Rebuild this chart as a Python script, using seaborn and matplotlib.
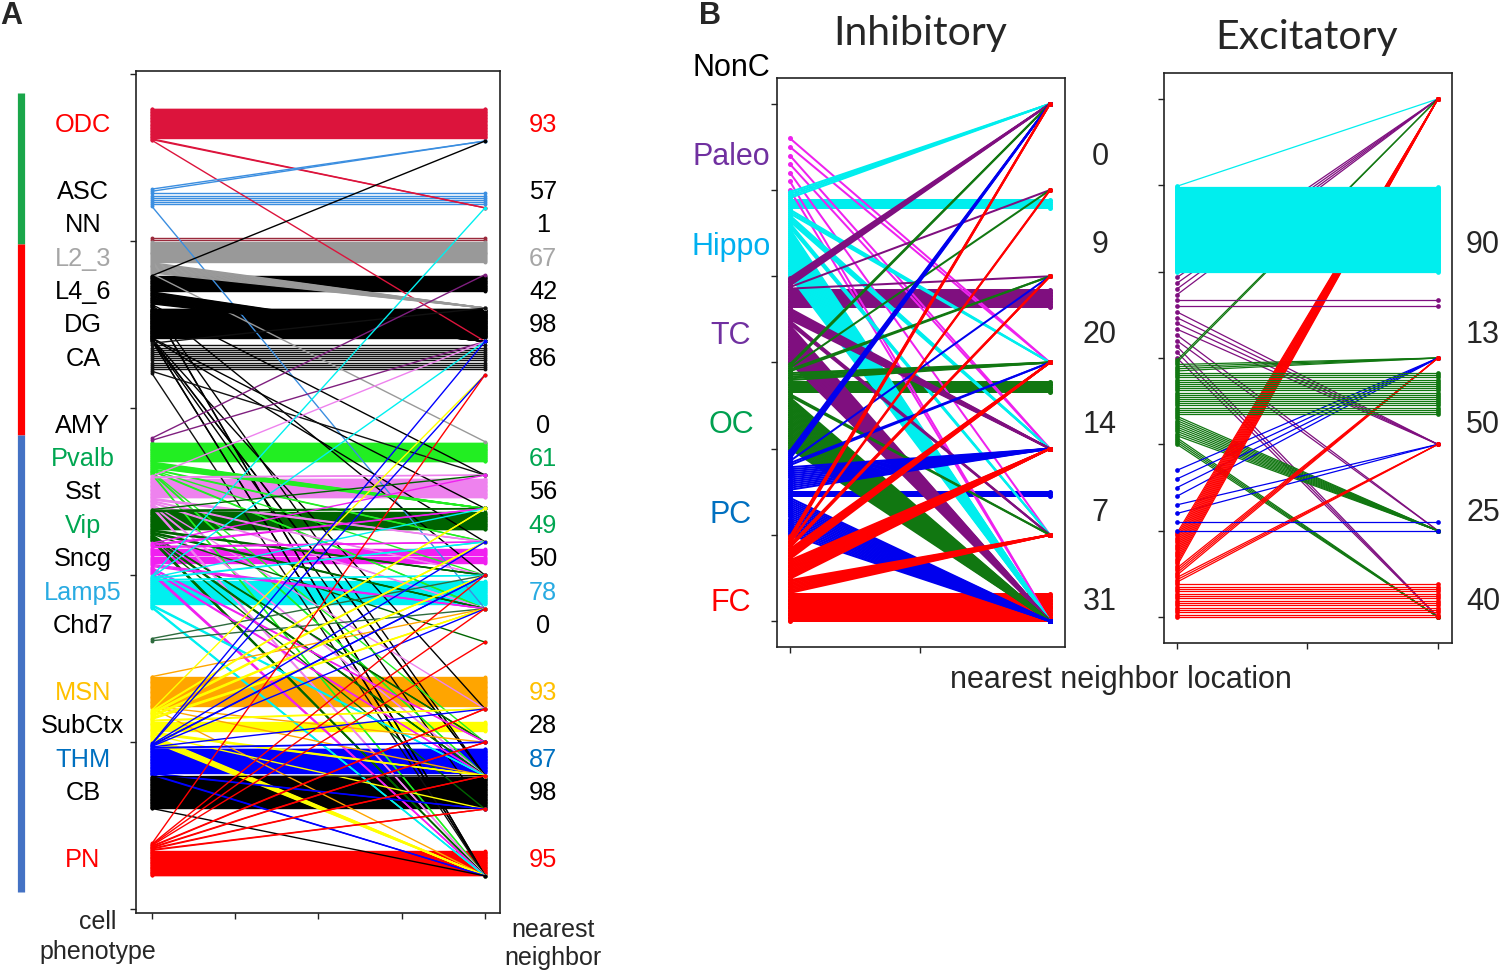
import numpy as np
import pandas as pd
import seaborn as sns
import matplotlib
matplotlib.use("Agg")
import matplotlib.pyplot as plt

# ---------------- data ----------------
# panel A: cell phenotype -> phenotype of nearest neighbor
cats_A = ["ODC", "ASC", "NN", "L2_3", "L4_6", "DG", "CA", "AMY", "Pvalb", "Sst", "Vip",
          "Sncg", "Lamp5", "Chd7", "MSN", "SubCtx", "THM", "CB", "PN"]
pct_A = [93, 57, 1, 67, 42, 98, 86, 0, 61, 56, 49, 50, 78, 0, 93, 28, 87, 98, 95]
# number of cells of each phenotype whose nearest neighbor is of a given phenotype
links_A = {
    "ODC": {"ODC": 40, "ASC": 2, "DG": 1},
    "ASC": {"ODC": 2, "ASC": 6, "Lamp5": 1},
    "NN": {"NN": 2},
    "L2_3": {"L2_3": 22, "L4_6": 12, "AMY": 1},
    "L4_6": {"ODC": 1, "L4_6": 22, "DG": 18, "Pvalb": 1, "Sncg": 1, "THM": 1, "PN": 2},
    "DG": {"DG": 70, "Sst": 1, "Vip": 1, "MSN": 1, "THM": 2, "CB": 1, "PN": 2},
    "CA": {"L4_6": 1, "CA": 12, "Pvalb": 1, "PN": 1},
    "AMY": {"L2_3": 1, "DG": 1},
    "Pvalb": {"Pvalb": 30, "Sst": 10, "Vip": 2, "Sncg": 1, "Lamp5": 2, "SubCtx": 1, "THM": 2, "PN": 2},
    "Sst": {"DG": 1, "Pvalb": 2, "Sst": 25, "Vip": 3, "Sncg": 2, "Lamp5": 2, "MSN": 1, "THM": 2, "PN": 3},
    "Vip": {"Pvalb": 1, "Sst": 3, "Vip": 25, "Sncg": 3, "Lamp5": 3, "Chd7": 1, "SubCtx": 2, "THM": 3,
            "CB": 1, "PN": 4},
    "Sncg": {"Pvalb": 1, "Sst": 2, "Vip": 2, "Sncg": 14, "Lamp5": 3, "SubCtx": 2, "THM": 2, "PN": 3},
    "Lamp5": {"ASC": 1, "DG": 1, "Sst": 1, "Vip": 2, "Sncg": 2, "Lamp5": 35, "THM": 3, "PN": 3},
    "Chd7": {"Sncg": 1, "Lamp5": 1},
    "MSN": {"Lamp5": 1, "MSN": 35, "SubCtx": 1, "THM": 1, "PN": 1},
    "SubCtx": {"CA": 1, "Sst": 2, "Vip": 3, "Sncg": 3, "Lamp5": 3, "MSN": 2, "SubCtx": 12, "THM": 3,
               "CB": 1, "PN": 8},
    "THM": {"DG": 1, "CA": 1, "Vip": 1, "Sncg": 2, "Lamp5": 1, "MSN": 1, "SubCtx": 2, "THM": 40,
            "CB": 2, "PN": 2},
    "CB": {"THM": 1, "CB": 50, "PN": 1},
    "PN": {"CA": 1, "Sncg": 1, "Lamp5": 1, "Chd7": 1, "MSN": 2, "SubCtx": 2, "THM": 2, "CB": 2, "PN": 40},
}

# panel B: brain region of a cell -> region of its nearest neighbor
regions = ["NonC", "Paleo", "Hippo", "TC", "OC", "PC", "FC"]
pct_inh = ["", "0", "9", "20", "14", "7", "31"]
pct_exc = ["", "", "90", "13", "50", "25", "40"]
links_inh = {
    "Paleo": {"TC": 2, "OC": 2, "PC": 1, "FC": 2},
    "Hippo": {"NonC": 4, "Hippo": 5, "TC": 3, "OC": 4, "PC": 3, "FC": 25},
    "TC": {"NonC": 6, "Paleo": 1, "Hippo": 1, "TC": 12, "OC": 8, "PC": 3, "FC": 25},
    "OC": {"NonC": 2, "Paleo": 1, "Hippo": 2, "TC": 5, "OC": 7, "PC": 2, "FC": 30},
    "PC": {"NonC": 5, "Hippo": 1, "TC": 2, "OC": 12, "PC": 3, "FC": 19},
    "FC": {"NonC": 4, "Paleo": 2, "Hippo": 3, "TC": 8, "OC": 14, "PC": 10, "FC": 20},
}
links_exc = {
    "Hippo": {"NonC": 1, "Hippo": 90},
    "TC": {"NonC": 4, "TC": 2, "OC": 4, "PC": 2, "FC": 3},
    "OC": {"NonC": 2, "TC": 4, "OC": 20, "PC": 10, "FC": 4},
    "PC": {"TC": 4, "OC": 2, "PC": 2},
    "FC": {"NonC": 15, "TC": 4, "OC": 3, "FC": 15},
}

# ---------------- layout / style ----------------
slot_A = [0, 2, 3, 4, 5, 6, 7, 9, 10, 11, 12, 13, 14, 15, 17, 18, 19, 20, 22]
line_col_A = ["#dc143c", "#3b8ee0", "#9a2a3c", "#999999", "black", "black", "#111111", "#7f1f7f",
              "#22ee22", "#ee82ee", "#006400", "#f020f0", "#00f0f0", "#2e6b3e", "#ffa500",
              "#ffff00", "#0000ff", "black", "#ff0000"]
green_lab, blue_lab = "#00a651", "#0070c0"
label_col_A = ["#ff0000", "black", "black", "#a6a6a6", "black", "black", "black", "black",
               green_lab, "black", green_lab, "black", "#29abe2", "black", "#ffc000", "black",
               blue_lab, "black", "#ff0000"]
line_col_B = ["#00eeee", "#ee22ee", "#00eeee", "#7f0f7f", "#117711", "#0000ee", "#ff0000"]
label_col_B = ["black", "#7030a0", "#00b0f0", "#7030a0", "#00a050", blue_lab, "#ff0000"]
lab_y_B = [68, 157, 247, 336, 425, 515, 603]      # pixel rows of region labels
pct_y_B = [157, 157, 245, 335, 425, 513, 602]


def cell_lines(cats, pos, links, x_end, left_pos, conv):
    p = dict(zip(cats, pos))
    rows = []
    cell = 0
    for src in cats:
        if src not in links:
            continue
        order = sorted(links[src].items(), key=lambda kv: p[kv[0]])
        dst = [t for t, n in order for _ in range(n)]
        for y0, t in zip(left_pos(p[src], len(dst)), dst):
            own = t == src
            y1 = y0 if own else p[t] + conv
            rows.append(dict(cell=cell, src=src, own=own, x=0, y=y0))
            rows.append(dict(cell=cell, src=src, own=own, x=x_end, y=y1))
            cell += 1
    return pd.DataFrame(rows)


def left_A(s, n):
    span = min(0.97, 0.065 * n)
    return s + 0.47 - span + span * (np.arange(n) + 0.5) / n


def left_B(s, n):
    span = min(1.0, 0.1 * n)
    return s - span + span * (np.arange(n) + 1) / n


def draw_lines(ax, df, cats, palette, lw, ms, bands_last=False):
    parts = [df[~df.own], df[df.own]] if bands_last else [df[df.own], df[~df.own]]
    for part in parts:
        present = set(part.src)
        sns.lineplot(data=part, x="x", y="y", hue="src",
                     hue_order=[c for c in cats if c in present],
                     units="cell", estimator=None, palette=palette, legend=False,
                     sort=False, ax=ax, lw=lw, marker="o", markersize=ms,
                     markeredgewidth=0)
    ax.set_xlabel("")
    ax.set_ylabel("")


def style_box(ax):
    ax.tick_params(direction="out", length=4.5, width=1.0, color="#222222",
                   labelleft=False, labelbottom=False)
    for sp in ax.spines.values():
        sp.set_visible(True)
        sp.set_linewidth(1.2)
        sp.set_color("#222222")


sns.set_style("ticks")
plt.rcParams["font.family"] = ["Liberation Sans", "DejaVu Sans"]

fig = plt.figure(figsize=(15, 9.72), dpi=100)

# ---------------- panel A ----------------
axA = fig.add_axes([136 / 1500, 1 - 913 / 972, 364 / 1500, 842 / 972])
dfA = cell_lines(cats_A, slot_A, links_A, 4, left_A, 0.48)
draw_lines(axA, dfA, cats_A, dict(zip(cats_A, line_col_A)), lw=1.0, ms=2.8)
axA.set_xlim(-0.192, 4.18)
axA.set_ylim(23.59, -1.617)
axA.set_xticks(range(5))
axA.set_yticks(np.arange(6) * 5 - 1.53)
style_box(axA)
trA = axA.get_yaxis_transform()
for c, s, pc, col in zip(cats_A, slot_A, pct_A, label_col_A):
    axA.text(-0.146, s, c, color=col, fontsize=18.3, ha="center", va="center", transform=trA)
    axA.text(1.118, s, str(pc), color=col, fontsize=18.3, ha="center", va="center", transform=trA)

# ---------------- panel B ----------------
axI = fig.add_axes([777 / 1500, 1 - 647 / 972, 288 / 1500, 569 / 972])
dfI = cell_lines(regions, range(7), links_inh, 1, left_B, 0)
draw_lines(axI, dfI, regions, dict(zip(regions, line_col_B)), lw=1.45, ms=3.6)
axI.set_xlim(-0.05, 1.058)
axI.set_ylim(6.3, -0.3)
axI.set_xticks([0, 0.5])
axI.set_yticks(range(7))
style_box(axI)

axE = fig.add_axes([1164 / 1500, 1 - 643 / 972, 288 / 1500, 570 / 972])
dfE = cell_lines(regions, range(7), links_exc, 1, left_B, 0)
draw_lines(axE, dfE, regions, dict(zip(regions, line_col_B)), lw=0.9, ms=3.4, bands_last=True)
axE.set_xlim(-0.05, 1.054)
axE.set_ylim(6.3, -0.3)
axE.set_xticks([0, 0.5, 1])
axE.set_yticks(range(7))
style_box(axE)

# ---------------- free text in pixel space ----------------
ov = fig.add_axes([0, 0, 1, 1])
ov.set_xlim(0, 1500)
ov.set_ylim(972, 0)
ov.axis("off")

ov.text(0, 16, "A", fontsize=22, fontweight="bold", ha="left", va="center")
ov.text(699, 16, "B", fontsize=22, fontweight="bold", ha="left", va="center")

# group bar beside panel A
for (y0, y1), col in zip([(93, 244), (244, 435), (435, 892)], ["#1aa64a", "#ff0000", "#4472c4"]):
    ov.plot([20.5, 20.5], [y0, y1], color=col, lw=5.2, solid_capstyle="butt")

ov.text(98, 922, "cell", fontsize=18, ha="center", va="center")
ov.text(98, 952, "phenotype", fontsize=18, ha="center", va="center")
ov.text(553, 930, "nearest", fontsize=18, ha="center", va="center")
ov.text(553, 958, "neighbor", fontsize=18, ha="center", va="center")

ov.text(920, 34, "Inhibitory", fontsize=29.5, family=["Lato", "DejaVu Sans"], ha="center", va="center")
ov.text(1307, 38, "Excitatory", fontsize=29.5, family=["Lato", "DejaVu Sans"], ha="center", va="center")
for r, y, col in zip(regions, lab_y_B, label_col_B):
    ov.text(731, y, r, color=col, fontsize=22, ha="center", va="center")
for pi, pe, y in zip(pct_inh, pct_exc, pct_y_B):
    ov.text(1100, y, pi, fontsize=22, ha="center", va="center")
    ov.text(1483, y, pe, fontsize=22, ha="center", va="center")
ov.text(1121, 680, "nearest neighbor location", fontsize=22, ha="center", va="center")

fig.savefig("out.png", dpi=100)
